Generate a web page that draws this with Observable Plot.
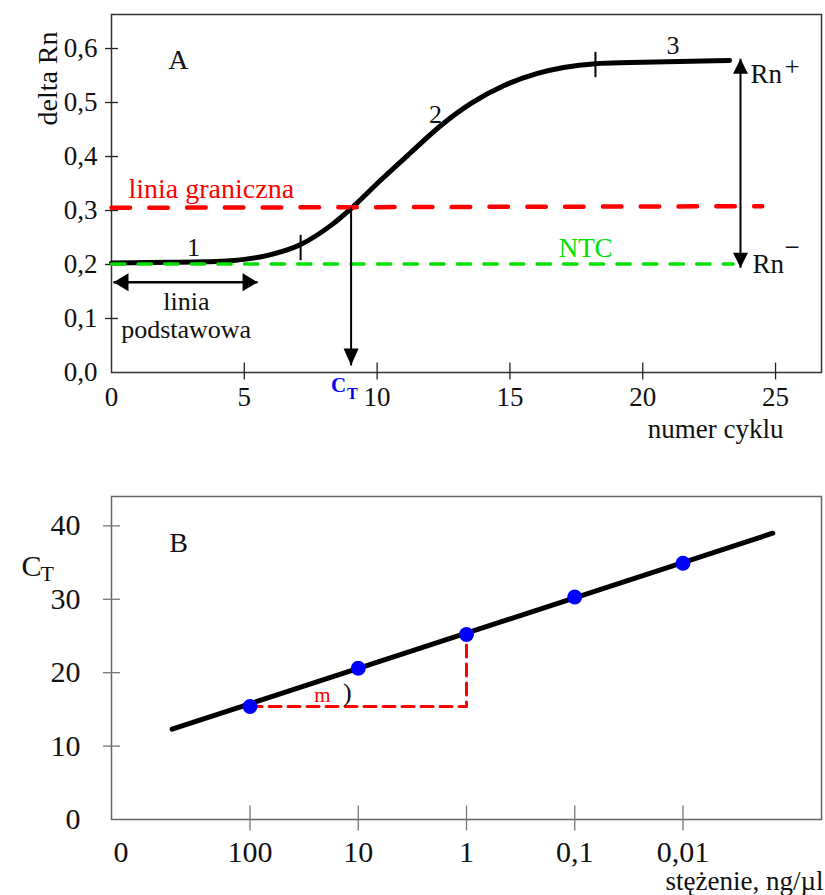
<!DOCTYPE html>
<html>
<head>
<meta charset="utf-8">
<script src="https://cdn.jsdelivr.net/npm/d3@7"></script>
<script src="https://cdn.jsdelivr.net/npm/@observablehq/plot@0.6"></script>
<style>
html, body { margin: 0; padding: 0; background: #fff; }
#chart svg { display: block; }
</style>
</head>
<body>
<div id="chart"></div>
<script>
// ---------------- Panel A data ----------------
const cycles  = [0, 2.2, 3.5, 4.48, 5.8, 7.12, 8.25, 9.07, 10.13, 11.26, 12.39, 13.52, 14.76, 16.04, 17.02, 18.22, 19.54, 23.27];
const deltaRn = [0.203, 0.204, 0.205, 0.207, 0.216, 0.237, 0.272, 0.306, 0.356, 0.407, 0.457, 0.498, 0.531, 0.554, 0.565, 0.572, 0.574, 0.578];
const yTicksA = [0, 0.1, 0.2, 0.3, 0.4, 0.5, 0.6];
const xTicksA = [0, 5, 10, 15, 20, 25];
const thresholdX = [0, 24.5];
const thresholdY = [0.305, 0.308];
const ntcX = [0, 23.4];
const ntcY = [0.201, 0.201];
const phaseX = [7.12, 18.22];
const phaseLow = [0.207, 0.546];
const phaseHigh = [0.254, 0.593];
const ctCycle = 9.02;
const ctArrowY = [0.306, 0.013];
const rnArrowX = 23.68;
const rnArrowY = [0.581, 0.194];
const baselineX = [0.075, 5.5];
const baselineY = 0.167;

// ---------------- Panel B data ----------------
const conc = [100, 10, 1, 0.1, 0.01];
const concLabels = ["100", "10", "1", "0,1", "0,01"];
const ctValues = [15.4, 20.6, 25.2, 30.3, 34.9];
const fitConc = [525, 0.00148];
const fitCt = [12.3, 39.0];
const yTicksB = [0, 10, 20, 30, 40];

const FONT = "'Liberation Serif', 'Times New Roman', serif";
const xDomainA = [0, 26.73];
const yDomainA = [0, 0.663];
const xDomainB = [1905, 0.000525];
const yDomainB = [0, 44];

// custom symbols (tick lines and filled arrow heads)
const hLine = (h) => ({draw(ctx) { ctx.moveTo(-h, 0); ctx.lineTo(h, 0); }});
const vLine = (up, down) => ({draw(ctx) { ctx.moveTo(0, -up); ctx.lineTo(0, down); }});
const head = (dir, len, half) => ({draw(ctx) {
  ctx.moveTo(0, 0);
  if (dir === "down") { ctx.lineTo(-half, -len); ctx.lineTo(half, -len); }
  if (dir === "up") { ctx.lineTo(-half, len); ctx.lineTo(half, len); }
  if (dir === "left") { ctx.lineTo(len, -half); ctx.lineTo(len, half); }
  if (dir === "right") { ctx.lineTo(-len, -half); ctx.lineTo(-len, half); }
  ctx.closePath();
}});

const curve = cycles.map((c, i) => ({c, v: deltaRn[i]}));
const comma = (d) => d.toFixed(1).replace(".", ",");

const textsA = [
  {t: "A", x: 2.52, y: 0.578, size: 28, fill: "#111", anchor: "middle"},
  {t: "1", x: 3.09, y: 0.232, size: 26, fill: "#111", anchor: "middle"},
  {t: "2", x: 12.2, y: 0.478, size: 26, fill: "#111", anchor: "middle"},
  {t: "3", x: 21.14, y: 0.606, size: 26, fill: "#111", anchor: "middle"},
  {t: "linia graniczna", x: 0.64, y: 0.339, size: 28, fill: "#ff0000", anchor: "start"},
  {t: "NTC", x: 17.85, y: 0.23, size: 27, fill: "#00e000", anchor: "middle"},
  {t: "Rn", x: 24.06, y: 0.553, size: 27, fill: "#111", anchor: "start"},
  {t: "+", x: 25.62, y: 0.565, size: 27, fill: "#111", anchor: "middle"},
  {t: "Rn", x: 24.13, y: 0.2, size: 27, fill: "#111", anchor: "start"},
  {t: "\u2212", x: 25.62, y: 0.231, size: 27, fill: "#111", anchor: "middle"},
  {t: "linia", x: 2.82, y: 0.132, size: 26, fill: "#111", anchor: "middle"},
  {t: "podstawowa", x: 2.81, y: 0.080, size: 26, fill: "#111", anchor: "middle"}
];

const plotA = Plot.plot({
  width: 825,
  height: 460,
  marginLeft: 111,
  marginRight: 4,
  marginTop: 14,
  marginBottom: 88,
  style: {fontFamily: FONT, background: "white", color: "#111", overflow: "visible"},
  x: {domain: xDomainA, axis: null},
  y: {domain: yDomainA, axis: null},
  marks: [
    Plot.frame({stroke: "#333", strokeWidth: 1.5}),
    // y ticks crossing the frame
    Plot.dot(yTicksA.slice(1), {x: () => xDomainA[0], y: (d) => d, r: 5, symbol: hLine(6.5), fill: "none", stroke: "#222", strokeWidth: 1.3}),
    Plot.text(yTicksA, {y: (d) => d, text: comma, frameAnchor: "left", dx: -14, textAnchor: "end", fontSize: 27}),
    // x ticks crossing the frame
    Plot.dot(xTicksA.slice(1), {x: (d) => d, y: () => yDomainA[0], r: 5, symbol: vLine(10, 7), fill: "none", stroke: "#222", strokeWidth: 1.3}),
    Plot.text(xTicksA, {x: (d) => d, text: (d) => String(d), frameAnchor: "bottom", dy: 14, lineAnchor: "top", fontSize: 27}),
    // curve and lines
    Plot.line(curve, {x: "c", y: "v", curve: "monotone-x", stroke: "black", strokeWidth: 5}),
    Plot.line(ntcX.map((x, i) => ({x, y: ntcY[i]})), {x: "x", y: "y", stroke: "#00e000", strokeWidth: 3.5, strokeDasharray: "13.3,13.3"}),
    Plot.line(thresholdX.map((x, i) => ({x, y: thresholdY[i]})), {x: "x", y: "y", stroke: "#ff0000", strokeWidth: 4.5, strokeDasharray: "18.5,19.3"}),
    Plot.ruleX(phaseX.map((x, i) => ({x, y1: phaseLow[i], y2: phaseHigh[i]})), {x: "x", y1: "y1", y2: "y2", stroke: "black", strokeWidth: 2}),
    // arrows
    Plot.link([{x: ctCycle, y1: ctArrowY[0], y2: ctArrowY[1]}], {x1: "x", x2: "x", y1: "y1", y2: "y2", stroke: "black", strokeWidth: 2}),
    Plot.dot([{x: ctCycle, y: ctArrowY[1]}], {x: "x", y: "y", r: 5, symbol: head("down", 17, 7.5), fill: "black"}),
    Plot.link([{x: rnArrowX, y1: rnArrowY[0], y2: rnArrowY[1]}], {x1: "x", x2: "x", y1: "y1", y2: "y2", stroke: "black", strokeWidth: 2}),
    Plot.dot([{x: rnArrowX, y: rnArrowY[0]}], {x: "x", y: "y", r: 5, symbol: head("up", 15, 7.5), fill: "black"}),
    Plot.dot([{x: rnArrowX, y: rnArrowY[1]}], {x: "x", y: "y", r: 5, symbol: head("down", 15, 7.5), fill: "black"}),
    Plot.link([{x1: baselineX[0], x2: baselineX[1], y: baselineY}], {x1: "x1", x2: "x2", y1: "y", y2: "y", stroke: "black", strokeWidth: 2.5}),
    Plot.dot([{x: baselineX[0], y: baselineY}], {x: "x", y: "y", r: 5, symbol: head("left", 15, 9), fill: "black"}),
    Plot.dot([{x: baselineX[1], y: baselineY}], {x: "x", y: "y", r: 5, symbol: head("right", 15, 9), fill: "black"}),
    // annotations
    Plot.text(textsA.filter((d) => d.anchor === "start"), {x: "x", y: "y", text: "t", fontSize: (d) => d.size, fill: "fill", textAnchor: "start"}),
    Plot.text(textsA.filter((d) => d.anchor === "middle"), {x: "x", y: "y", text: "t", fontSize: (d) => d.size, fill: "fill", textAnchor: "middle"}),
    Plot.text(["delta Rn"], {frameAnchor: "top-left", dx: -74, dy: 64, rotate: -90, fontSize: 28, textAnchor: "middle"}),
    Plot.text(["numer cyklu"], {frameAnchor: "bottom-right", dx: -38, dy: 65, fontSize: 27, textAnchor: "end", lineAnchor: "bottom"}),
    Plot.text([{x: 8.55, t: "C"}], {x: "x", text: "t", frameAnchor: "bottom", dy: 19, fontSize: 21, fontWeight: "bold", fill: "#0000ff"}),
    Plot.text([{x: 9.07, t: "T"}], {x: "x", text: "t", frameAnchor: "bottom", dy: 26, fontSize: 16, fontWeight: "bold", fill: "#0000ff"})
  ]
});

// ---------------- Panel B ----------------
const labelMap = new Map(conc.map((c, i) => [c, concLabels[i]]));
const pts = conc.map((c, i) => ({c, ct: ctValues[i]}));
const fit = fitConc.map((c, i) => ({c, ct: fitCt[i]}));
const slope = [
  {c: conc[0], ct: ctValues[0]},
  {c: conc[2], ct: ctValues[0]},
  {c: conc[2], ct: ctValues[2]}
];
const textsB = [
  {t: "B", x: 457, y: 37.6, size: 28, fill: "#111"},
  {t: "m", x: 21.4, y: 16.9, size: 21, fill: "#ff0000"},
  {t: ")", x: 12.6, y: 17.3, size: 26, fill: "#111"}
];

const plotB = Plot.plot({
  width: 825,
  height: 435,
  marginLeft: 111,
  marginRight: 4,
  marginTop: 36,
  marginBottom: 76,
  style: {fontFamily: FONT, background: "white", color: "#111", overflow: "visible"},
  x: {type: "log", domain: xDomainB, axis: null},
  y: {domain: yDomainB, axis: null},
  marks: [
    Plot.frame({stroke: "#666", strokeWidth: 1.5}),
    Plot.dot(yTicksB.slice(1), {x: () => xDomainB[0], y: (d) => d, r: 5, symbol: hLine(8.5), fill: "none", stroke: "#777", strokeWidth: 1.3}),
    Plot.text(yTicksB, {y: (d) => d, text: (d) => String(d), frameAnchor: "left", dx: -31, textAnchor: "end", fontSize: 30}),
    Plot.dot(conc, {x: (d) => d, y: () => yDomainB[0], r: 5, symbol: vLine(14, 11), fill: "none", stroke: "#777", strokeWidth: 1.3}),
    Plot.text(conc, {x: (d) => d, text: (d) => labelMap.get(d), frameAnchor: "bottom", dy: 21, lineAnchor: "top", fontSize: 30}),
    Plot.text(["0"], {frameAnchor: "bottom-left", dx: 2, dy: 21, fontSize: 30, lineAnchor: "top"}),
    Plot.line(fit, {x: "c", y: "ct", stroke: "black", strokeWidth: 5}),
    Plot.line(slope, {x: "c", y: "ct", stroke: "#ff0000", strokeWidth: 3, strokeDasharray: "12,7"}),
    Plot.dot(pts, {x: "c", y: "ct", r: 7.5, fill: "#0000ff"}),
    Plot.text(textsB, {x: "x", y: "y", text: "t", fontSize: (d) => d.size, fill: "fill"}),
    Plot.text(["C"], {frameAnchor: "top-left", dx: -90, dy: 58, fontSize: 30}),
    Plot.text(["T"], {frameAnchor: "top-left", dx: -71, dy: 69, fontSize: 22}),
    Plot.text(["stężenie, ng/µl"], {frameAnchor: "bottom-right", dx: 2, dy: 70, fontSize: 27, textAnchor: "end", lineAnchor: "bottom"})
  ]
});

const root = document.getElementById("chart");
root.appendChild(plotA);
root.appendChild(plotB);
</script>
</body>
</html>
